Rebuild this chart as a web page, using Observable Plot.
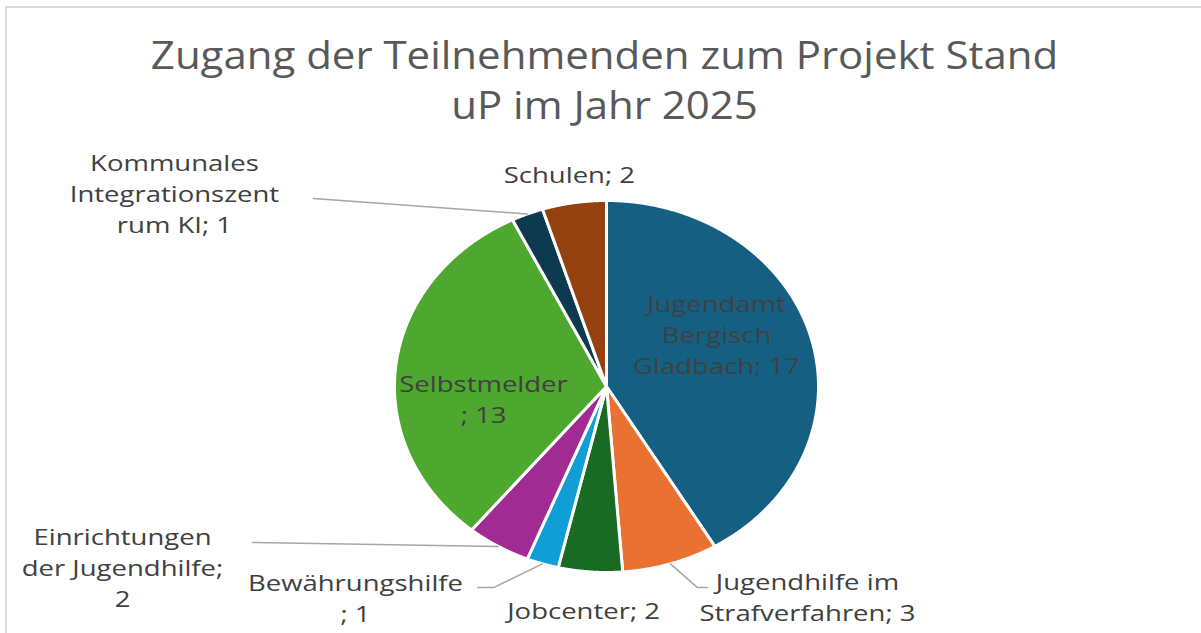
<!DOCTYPE html>
<html><head><meta charset="utf-8">
<script src="https://cdn.jsdelivr.net/npm/d3@7"></script>
<script src="https://cdn.jsdelivr.net/npm/@observablehq/plot@0.6"></script>
<style>
html,body{margin:0;padding:0;overflow:hidden;background:#fff;}
#wrap{position:relative;width:1201px;height:633px;overflow:hidden;}
#border{position:absolute;left:5px;top:6px;width:1300px;height:700px;border:2px solid #d9d9d9;box-sizing:border-box;pointer-events:none;}
#chart{position:absolute;left:0;top:0;}
</style></head><body>
<div id="wrap"><div id="border"></div><div id="chart"></div></div>
<script>
// ---- data ----
const categories = ["Jugendamt Bergisch Gladbach", "Jugendhilfe im Strafverfahren", "Jobcenter", "Bewährungshilfe", "Einrichtungen der Jugendhilfe", "Selbstmelder", "Kommunales Integrationszentrum KI", "Schulen"];
const values = [17, 3, 2, 1, 2, 13, 1, 2];
const titleLines = ["Zugang der Teilnehmenden zum Projekt Stand", "uP im Jahr 2025"];

// ---- styling / layout ----
const colors = ["#156082", "#E97132", "#196B24", "#0F9ED5", "#A02B93", "#4EA72E", "#0D3A4F", "#94400F"];
const wrappedNames = ["Jugendamt\nBergisch\nGladbach", "Jugendhilfe im\nStrafverfahren", "Jobcenter", "Bewährungshilfe\n", "Einrichtungen\nder Jugendhilfe", "Selbstmelder\n", "Kommunales\nIntegrationszent\nrum KI", "Schulen"];
const valueSep = ["; ", "; ", "; ", "; ", ";\n", "; ", "; ", "; "];
// label centres, in pie-radius units relative to the pie centre
const labelX = [0.519, 0.948, -0.108, -1.184, -2.283, -0.58, -2.038, -0.175];
const labelY = [0.285, -1.124, -1.194, -1.129, -0.968, -0.062, 1.043, 1.145];
// leader lines: slice index -> extra points (elbow, end) in pie-radius units
const leaderLayout = [
  {i: 6, pts: [[-1.382, 1.011]]},
  {i: 4, pts: [[-1.670, -0.839]]},
  {i: 3, pts: [[-0.533, -1.081], [-0.608, -1.081]]},
  {i: 1, pts: [[0.429, -1.081], [0.476, -1.081]]}
];
const FONT = "'Open Sans', sans-serif";
const LABEL_SIZE = 22, LABEL_STRETCH = 1.25;
const TITLE_SIZE = 38, TITLE_STRETCH = 1.105;

const rows = categories.map((c, i) => ({name: c, value: values[i], label: wrappedNames[i] + valueSep[i] + values[i], lx: labelX[i], ly: labelY[i]}));
const arcs = d3.pie().sort(null).value(d => d.value).startAngle(0).endAngle(2 * Math.PI)(rows);

const slices = arcs.flatMap(a => {
  const pts = [{name: a.data.name, x: 0, y: 0}];
  const n = Math.max(4, Math.ceil((a.endAngle - a.startAngle) / 0.004));
  for (let k = 0; k <= n; k++) {
    const t = a.startAngle + (a.endAngle - a.startAngle) * k / n;
    pts.push({name: a.data.name, x: Math.sin(t), y: Math.cos(t)});
  }
  pts.push({name: a.data.name, x: 0, y: 0});
  return pts;
});

const leaders = leaderLayout.flatMap(({i, pts}) => {
  const a = arcs[i];
  const m = (a.startAngle + a.endAngle) / 2;
  const name = a.data.name;
  return [{name, x: Math.sin(m), y: Math.cos(m)}, ...pts.map(([x, y]) => ({name, x, y}))];
});

const chart = Plot.plot({
  width: 1201,
  height: 633,
  margin: 0,
  style: {background: "transparent", fontFamily: FONT},
  x: {domain: [-1, 1], range: [394, 818], axis: null},
  y: {domain: [-1, 1], range: [572, 200], axis: null},
  color: {domain: categories, range: colors},
  marks: [
    Plot.line(slices, {x: "x", y: "y", z: "name", fill: "name", stroke: "white", strokeWidth: 3, strokeLinejoin: "round", curve: "linear"}),
    Plot.line(leaders, {x: "x", y: "y", z: "name", stroke: "#a6a6a6", strokeWidth: 1.5, curve: "linear"}),
    Plot.text(rows, {x: "lx", y: "ly", text: "label", fill: "#404040", fontSize: LABEL_SIZE, lineHeight: 31 / LABEL_SIZE, fontFamily: FONT, textAnchor: "middle"}),
    Plot.text([titleLines.join("\n")], {frameAnchor: "top", lineAnchor: "top", dx: 3.5, dy: 33, fill: "#595959", fontSize: TITLE_SIZE, lineHeight: 50 / TITLE_SIZE, fontFamily: FONT})
  ]
});

// widen the glyphs horizontally around each text anchor, like the reference rendering
const textGroups = chart.querySelectorAll('g[aria-label="text"]');
const stretches = [LABEL_STRETCH, TITLE_STRETCH];
textGroups.forEach((g, gi) => {
  g.querySelectorAll("text").forEach(t => {
    const tr = t.getAttribute("transform") || "";
    t.setAttribute("transform", tr + ` scale(${stretches[gi]},1)`);
  });
});
document.getElementById("chart").appendChild(chart);
</script>
</body></html>
